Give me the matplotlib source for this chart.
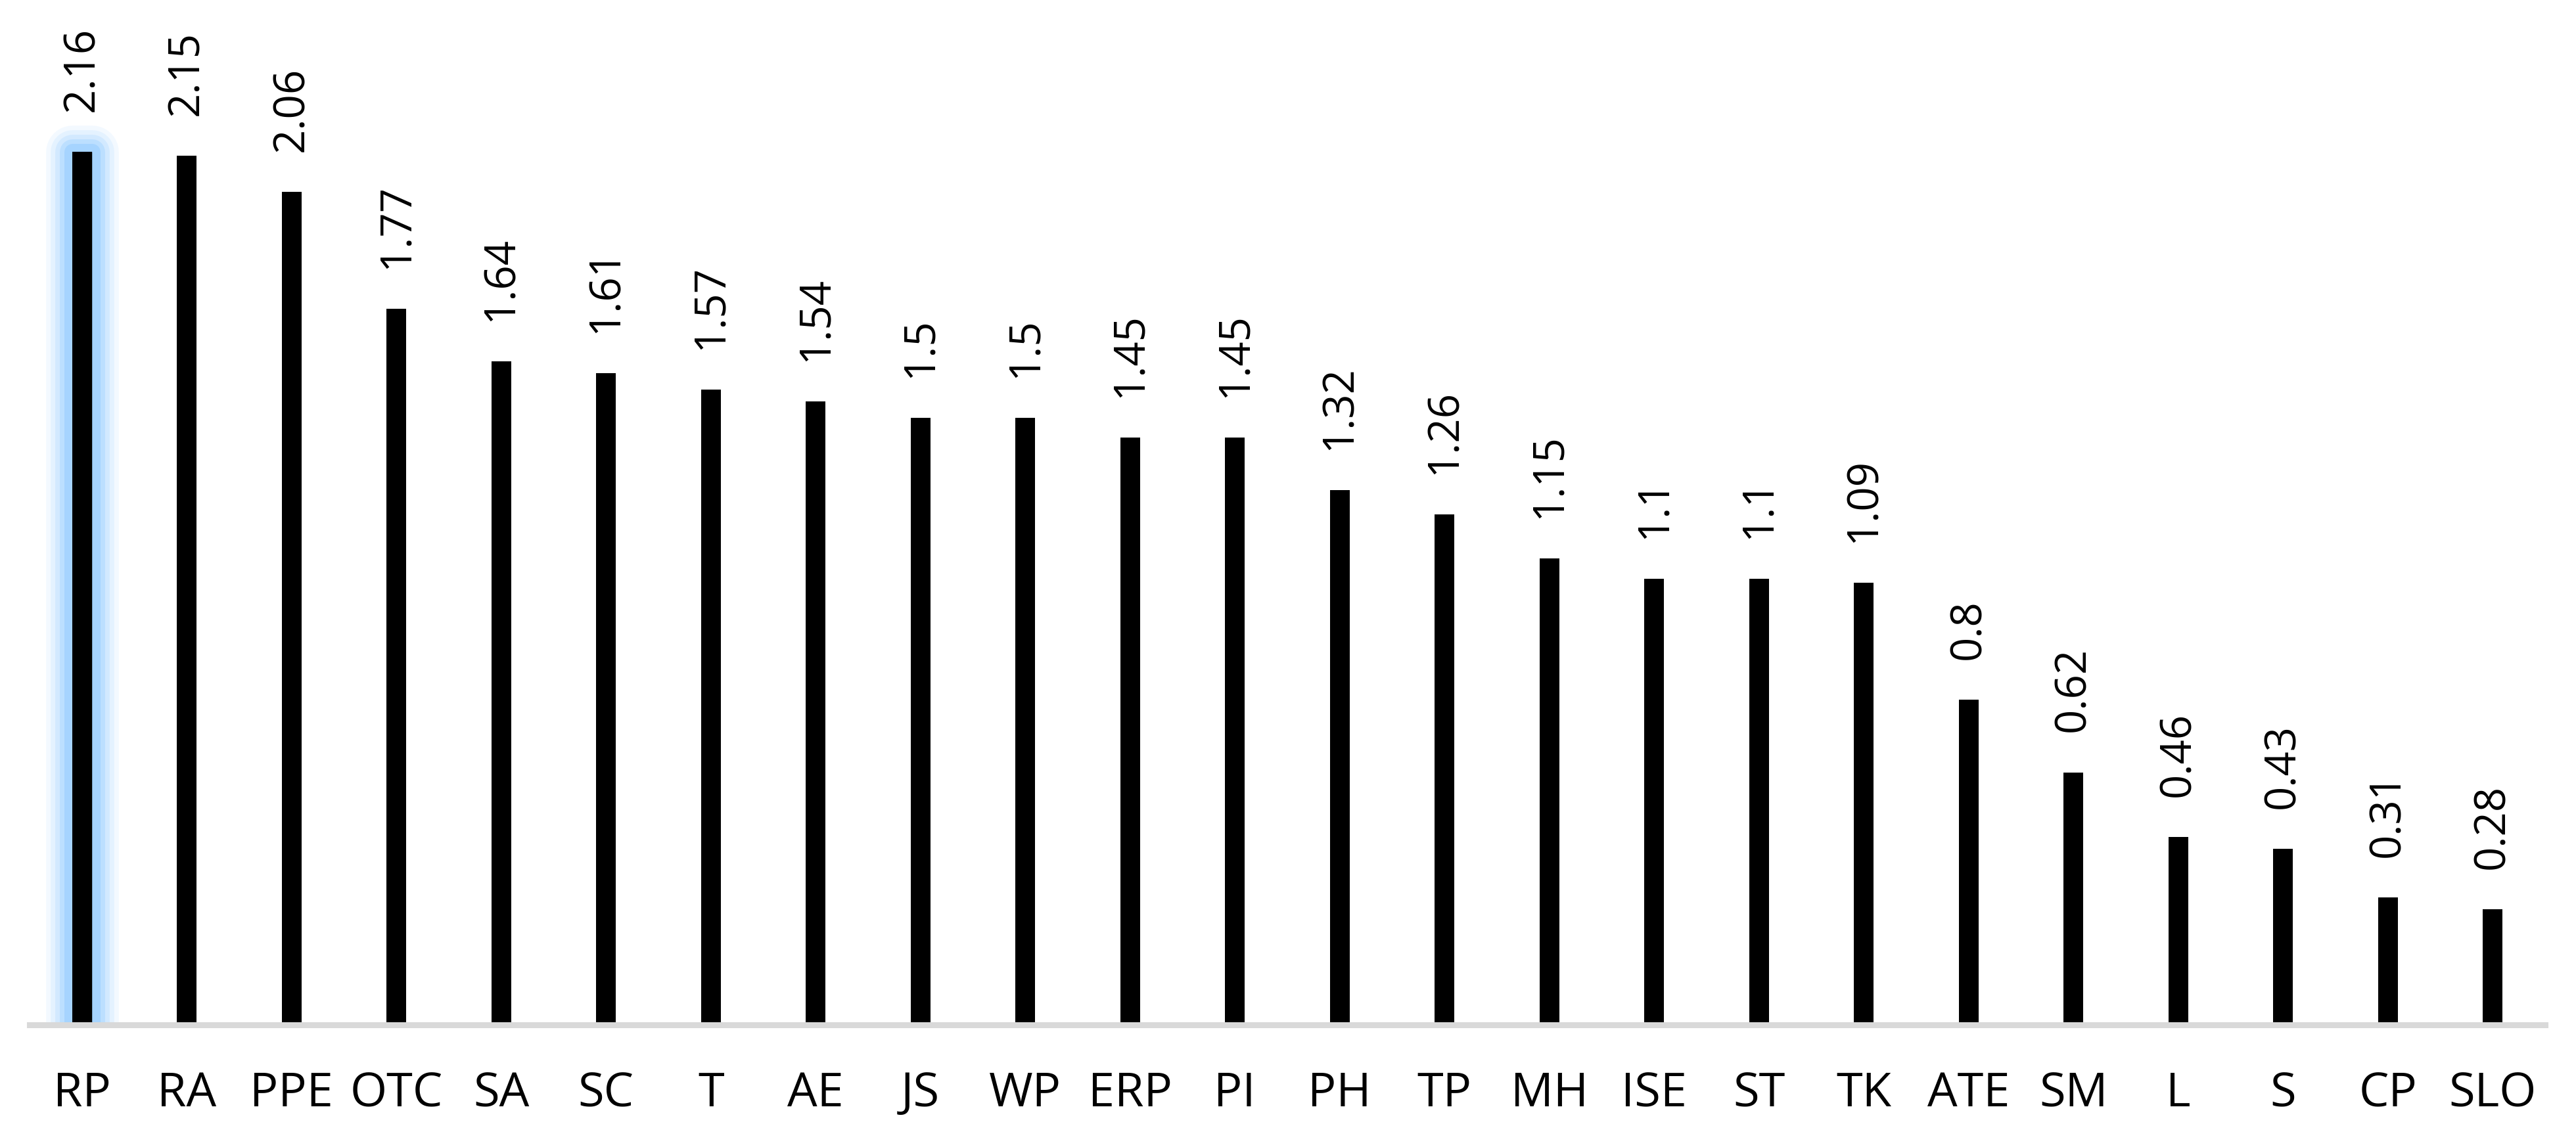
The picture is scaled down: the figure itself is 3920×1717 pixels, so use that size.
import matplotlib
matplotlib.use("Agg")
import matplotlib.pyplot as plt
import matplotlib.patheffects as pe
import numpy as np

categories = ["RP", "RA", "PPE", "OTC", "SA", "SC", "T", "AE", "JS", "WP", "ERP", "PI",
              "PH", "TP", "MH", "ISE", "ST", "TK", "ATE", "SM", "L", "S", "CP", "SLO"]
values = [2.16, 2.15, 2.06, 1.77, 1.64, 1.61, 1.57, 1.54, 1.5, 1.5, 1.45, 1.45,
          1.32, 1.26, 1.15, 1.1, 1.1, 1.09, 0.8, 0.62, 0.46, 0.43, 0.31, 0.28]

plt.rcParams["font.family"] = ["Open Sans", "DejaVu Sans"]

fig = plt.figure(figsize=(39.2, 17.17), dpi=100)
ax = fig.add_axes([45 / 3920, 161 / 1717, (3873 - 45) / 3920, 1556 / 1717])

x = np.arange(len(categories))
bars = ax.bar(x, values, width=0.186, color="black", zorder=3)

# soft blue glow around the first (selected) bar
glow = []
for lw, a in [(58, 0.10), (48, 0.14), (38, 0.2), (28, 0.3), (18, 0.45)]:
    glow.append(pe.Stroke(linewidth=lw, foreground="#8cc8ff", alpha=a, joinstyle="round"))
glow.append(pe.Normal())
bars[0].set_path_effects(glow)

for xi, v in zip(x, values):
    ax.annotate(f"{v:g}", xy=(xi, v), xytext=(0, 44), textcoords="offset points",
                rotation=90, ha="center", va="bottom", fontsize=47, color="black")

ax.set_xlim(-0.5, len(categories) - 0.5)
ax.set_ylim(0, 2.536)
ax.set_xticks(x)
ax.set_xticklabels(categories)
ax.tick_params(axis="x", length=0, pad=50, labelsize=52)
ax.set_yticks([])

for side in ["top", "right", "left"]:
    ax.spines[side].set_visible(False)
ax.spines["bottom"].set_color("#d9d9d9")
ax.spines["bottom"].set_linewidth(6.5)
ax.spines["bottom"].set_position(("outward", 3))
ax.patch.set_alpha(0)

fig.savefig("out.png", dpi=100, facecolor="white")
